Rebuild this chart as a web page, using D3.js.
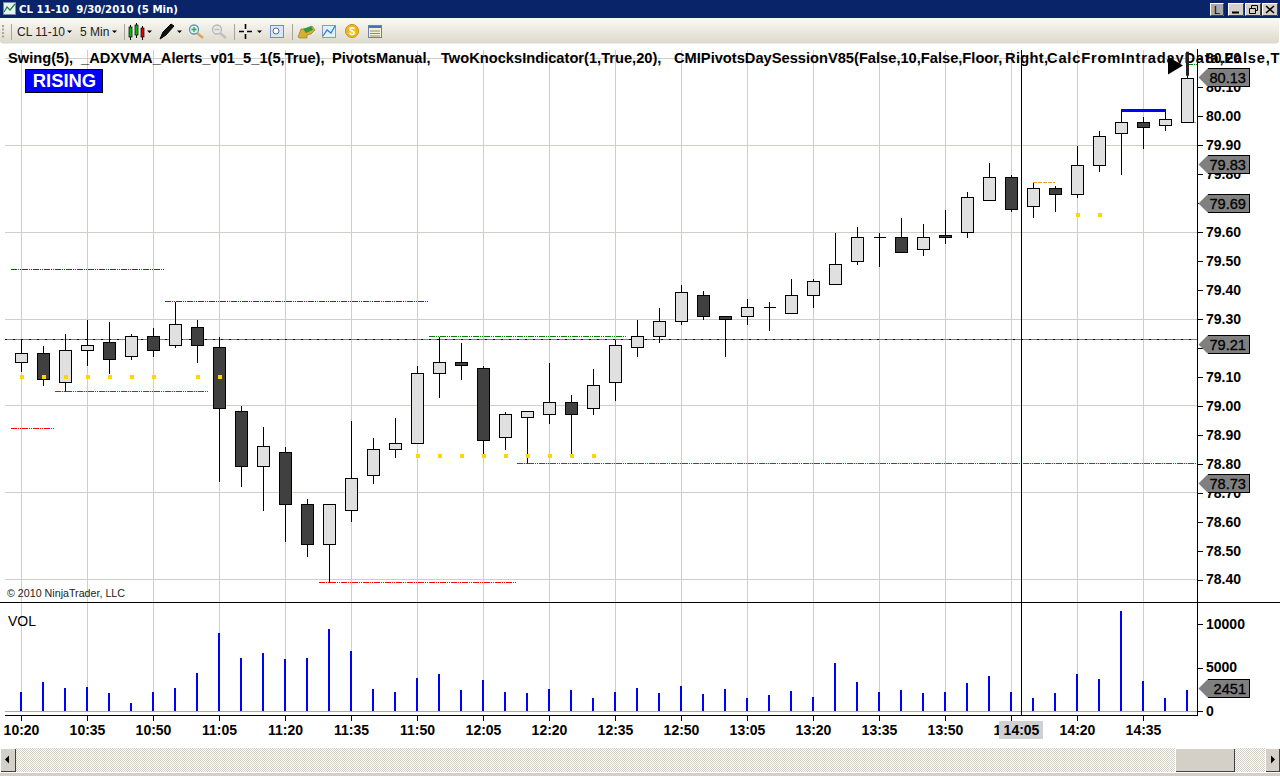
<!DOCTYPE html>
<html><head><meta charset="utf-8">
<script src="https://cdn.jsdelivr.net/npm/d3@7"></script>
<style>
html,body{margin:0;padding:0;background:#fff;overflow:hidden}
svg{display:block;font-family:"Liberation Sans",Arial,sans-serif}
</style></head><body><div id="c"></div>
<script>
const highs=[79.23,79.21,79.25,79.30,79.29,79.25,79.27,79.36,79.30,79.24,79.00,78.93,78.86,78.68,78.66,78.95,78.89,78.96,79.14,79.24,79.22,79.14,78.98,78.98,79.15,79.04,79.13,79.23,79.30,79.34,79.42,79.40,79.31,79.37,79.36,79.44,79.44,79.60,79.62,79.60,79.65,79.63,79.68,79.74,79.84,79.80,79.77,79.76,79.90,79.95,80.02,80.00,80.02,80.22];
const lows=[79.12,79.07,79.05,79.14,79.11,79.16,79.17,79.20,79.15,78.74,78.72,78.64,78.53,78.48,78.39,78.60,78.73,78.82,78.87,79.03,79.09,78.83,78.85,78.80,78.94,78.83,78.97,79.02,79.17,79.22,79.28,79.30,79.17,79.28,79.26,79.32,79.34,79.42,79.49,79.48,79.53,79.52,79.56,79.58,79.71,79.67,79.65,79.67,79.72,79.81,79.80,79.89,79.95,79.98];
const opens=[79.15,79.18,79.08,79.19,79.22,79.17,79.24,79.21,79.27,79.20,78.98,78.79,78.84,78.66,78.52,78.64,78.76,78.85,78.87,79.11,79.15,79.13,78.89,78.96,78.97,79.01,78.99,79.08,79.20,79.24,79.29,79.38,79.31,79.31,79.34,79.32,79.38,79.42,79.50,79.58,79.58,79.54,79.59,79.60,79.71,79.79,79.69,79.75,79.73,79.83,79.94,79.98,79.97,79.98];
const closes=[79.18,79.09,79.19,79.21,79.16,79.24,79.19,79.28,79.21,78.99,78.79,78.86,78.66,78.52,78.66,78.75,78.85,78.87,79.11,79.15,79.14,78.88,78.97,78.98,79.01,78.97,79.07,79.21,79.24,79.29,79.39,79.31,79.30,79.34,79.34,79.38,79.43,79.49,79.58,79.58,79.53,79.58,79.58,79.72,79.79,79.68,79.75,79.73,79.83,79.93,79.98,79.96,79.99,80.13];
const volumes=[2180,3330,2640,2760,2070,920,2180,2640,4370,8960,6090,6660,5970,6090,9420,6890,2530,2180,3790,4250,2410,3560,2180,2070,2530,2410,1490,2180,2640,2070,2870,1950,2530,1490,1840,2300,1610,5520,3330,2180,2410,2070,2180,3220,4020,2180,1490,2070,4250,3680,11490,3450,1490,2451];
const timeLabels=["10:20","10:35","10:50","11:05","11:20","11:35","11:50","12:05","12:20","12:35","12:50","13:05","13:20","13:35","13:50","14:05","14:20","14:35"];
const priceTicks=[78.4,78.5,78.6,78.7,78.8,78.9,79.0,79.1,79.2,79.3,79.4,79.5,79.6,79.7,79.8,79.9,80.0,80.1,80.2];
const priceGrid=[78.4,78.7,79.0,79.3,79.6,79.9,80.2];
const volumeTicks=[0,5000,10000];
const swingHighs=[{a:-0.45,b:6.5,v:79.47,c:"#006400"},{a:6.55,b:18.5,v:79.36,c:"#006400"},{a:18.55,b:27.5,v:79.24,c:"#008000"},{a:53,b:53.45,v:80.18,c:"#008000"}];
const swingLows=[{a:-0.45,b:1.5,v:78.92,c:"#ff0000"},{a:1.55,b:8.5,v:79.05,c:"#ff0000"},{a:13.55,b:22.5,v:78.39,c:"#ff0000"},{a:22.55,b:53.45,v:78.80,c:"#ff0000"}];
const orangeLines=[{a:46,b:47,v:79.77},{a:53,b:53.45,v:79.98}];
const blueLine={a:50,b:52,v:80.02};
const dotBars=[0,1,2,3,4,5,6,8,9,18,19,20,21,22,23,24,25,26,48,49];
const dotValues=[79.10,79.10,79.10,79.10,79.10,79.10,79.10,79.10,79.10,78.83,78.83,78.83,78.83,78.83,78.83,78.83,78.83,78.83,79.66,79.66];
const pivotValue=79.23;
const priceTags=[{v:80.13,t:"80.13"},{v:79.83,t:"79.83"},{v:79.695,t:"79.69"},{v:79.21,t:"79.21"},{v:78.73,t:"78.73"}];
const volumeTag=2451;
const cursorBar=45.47, cursorTime="14:05";
const titleParts=[[8,"Swing(5),",0],[81,"_ADXVMA_Alerts_v01_5_1(5,True),",0],[332,"PivotsManual,",0],[441,"TwoKnocksIndicator(1,True,20),",0],[674,"CMIPivotsDaySessionV85(False,10,False,Floor,",0],[1005,"Right,",0.3],[1047,"CalcFromIntradayData,False,T",0.8]];

const W=1280,H=776;
const svg=d3.select("#c").append("svg").attr("width",W).attr("height",H);
const x=d3.scaleLinear().domain([0,53]).range([21,1187]);
const y=d3.scaleLinear().domain([78.4,80.0]).range([579.5,116.4]);
const yv=d3.scaleLinear().domain([0,10000]).range([711,624]);
const snap=v=>Math.floor(v)+0.5;
const BLK="#000",GRID="#d0cec6";

const defs=svg.append("defs");
const lg=defs.append("linearGradient").attr("id","tb").attr("x1",0).attr("x2",0).attr("y1",0).attr("y2",1);
lg.append("stop").attr("offset",0).attr("stop-color","#fbfaf6");
lg.append("stop").attr("offset",1).attr("stop-color","#dcd8cc");
const pat=defs.append("pattern").attr("id","hatch").attr("width",2).attr("height",2).attr("patternUnits","userSpaceOnUse");
pat.append("rect").attr("width",2).attr("height",2).attr("fill","#fff");
pat.append("rect").attr("width",1).attr("height",1).attr("fill","#d4d0c8");
pat.append("rect").attr("x",1).attr("y",1).attr("width",1).attr("height",1).attr("fill","#d4d0c8");

/* window chrome */
const chrome=svg.append("g");
chrome.append("rect").attr("width",W).attr("height",18).attr("fill","#0a246a");
chrome.append("text").attr("x",19).attr("y",13).attr("fill","#fff").attr("font-size",11).attr("font-weight",700).attr("font-family","'DejaVu Sans'").attr("textLength",159).attr("lengthAdjust","spacingAndGlyphs").attr("xml:space","preserve").text("CL 11-10  9/30/2010 (5 Min)");
chrome.append("rect").attr("x",3.5).attr("y",2.5).attr("width",12).attr("height",12).attr("fill","#e8f0f8").attr("stroke","#7a8aa8");
chrome.append("path").attr("d","M4 12L7 7L10 10L15 4").attr("fill","none").attr("stroke","#1a8a30").attr("stroke-width",1.2);
const winBtn=[[1210,"L"],[1228,"_"],[1245,"▫"],[1262,"×"]];
winBtn.forEach(([bx,s],i)=>{
  chrome.append("rect").attr("x",bx+.5).attr("y",3.5).attr("width",i?15:13).attr("height",12).attr("fill",i?"#d4d0c8":"#a8a8a8").attr("stroke","#fff");
  chrome.append("path").attr("d",`M${bx+(i?15.5:13.5)} 3.5V15.5H${bx+.5}`).attr("fill","none").attr("stroke","#404040");
});
chrome.append("text").attr("x",1217).attr("y",14).attr("text-anchor","middle").attr("font-size",11).text("L");
chrome.append("path").attr("d","M1232 12.5H1239").attr("stroke","#000").attr("stroke-width",2);
chrome.append("path").attr("d","M1249.5 8.5H1255.5V13.5H1249.5ZM1251.5 8V5.5H1257.5V10.5H1255.5").attr("fill","none").attr("stroke","#000");
chrome.append("path").attr("d","M1266 6L1274 13M1274 6L1266 13").attr("stroke","#000").attr("stroke-width",1.6);

chrome.append("rect").attr("x",0).attr("y",18).attr("width",W).attr("height",26).attr("fill","#fff");
chrome.append("rect").attr("x",0).attr("y",18).attr("width",1279).attr("height",25.5).attr("rx",3).attr("fill","url(#tb)");
const tbText=(tx,s)=>chrome.append("text").attr("x",tx).attr("y",36).attr("font-size",12).attr("fill","#222").attr("font-family","'Liberation Sans'").text(s);
tbText(17,"CL 11-10"); tbText(80,"5 Min");
const tri=(tx)=>chrome.append("path").attr("d",`M${tx} 30.5h5l-2.5 2.5z`).attr("fill","#000");
[67,112,147,177,257].forEach(tri);
[[11,"#a8a49c"],[124,"#a8a49c"],[234,"#a8a49c"],[292,"#a8a49c"]].forEach(([sx,c])=>chrome.append("path").attr("d",`M${sx+.5} 24V40`).attr("stroke",c));
for(let i=0;i<4;i++)chrome.append("rect").attr("x",2).attr("y",25+i*3.5).attr("width",2).attr("height",2).attr("fill","#a8a49c");
[[130.5,"#00c000",27,10],[136.5,"#00c000",25,10],[142.5,"#e00000",28,9]].forEach(([cx,c,t,h])=>{
  chrome.append("path").attr("d",`M${cx} ${t-2}V${t+h+3}`).attr("stroke","#000");
  chrome.append("rect").attr("x",cx-1.5).attr("y",t).attr("width",3).attr("height",h).attr("fill",c).attr("stroke","#000").attr("stroke-width",.7);
});
chrome.append("path").attr("d","M160 39L163 32L171 24L174 26L166 35Z").attr("fill","#111").attr("stroke","#000");
[[194,"#3a9a6a",1],[217,"#b8b8b8",0]].forEach(([mx,c,on])=>{
  chrome.append("circle").attr("cx",mx).attr("cy",29.5).attr("r",4.5).attr("fill",on?"#dff3e4":"#e8e8e8").attr("stroke",on?"#5a9ab0":"#b8b8b8").attr("stroke-width",1.3);
  chrome.append("path").attr("d",`M${mx+3} 33L${mx+9} 38`).attr("stroke",on?"#e0a060":"#c0c0c0").attr("stroke-width",2.5);
  chrome.append("path").attr("d",on?`M${mx-2.5} 29.5h5M${mx} 27v5`:`M${mx-2.5} 29.5h5`).attr("stroke",c).attr("stroke-width",1.3);
});
chrome.append("path").attr("d","M239 31.5h5M247 31.5h5M245.5 24v5M245.5 34v5").attr("stroke","#000").attr("stroke-width",1.6);
chrome.append("rect").attr("x",270.5).attr("y",25.5).attr("width",13).attr("height",12).attr("fill","#dbe6f4").attr("stroke","#6f8fc0");
chrome.append("circle").attr("cx",276).attr("cy",31).attr("r",3).attr("fill","#fff").attr("stroke","#667");
chrome.append("path").attr("d","M298 37l3-8h6l5-3 3 4-4 4-4 1v3h-7z").attr("fill","#d8b030").attr("stroke","#807020").attr("stroke-width",.6);
chrome.append("path").attr("d","M303 29l8-3 2 4-7 3z").attr("fill","#2e9a40");
chrome.append("rect").attr("x",322.5).attr("y",25.5).attr("width",13).attr("height",12).attr("fill","#e8eef6").attr("stroke","#8a9ab8");
chrome.append("path").attr("d","M323 36L327 30L331 33L335 26").attr("fill","none").attr("stroke","#1a8ad0").attr("stroke-width",1.3);
chrome.append("circle").attr("cx",352).attr("cy",31).attr("r",6.5).attr("fill","#f0b820").attr("stroke","#c89010");
chrome.append("text").attr("x",352).attr("y",35).attr("text-anchor","middle").attr("font-size",11).attr("font-weight",700).attr("fill","#fff").text("$");
chrome.append("rect").attr("x",368.5).attr("y",25.5).attr("width",13).attr("height",12).attr("fill","#f6f0d8").attr("stroke","#6a80b0");
chrome.append("rect").attr("x",369).attr("y",26).attr("width",12).attr("height",2).attr("fill","#4a70c0");
chrome.append("path").attr("d","M370 31h10M370 33.5h10M370 36h10").attr("stroke","#9a8a60");

/* grid */
const gx=svg.append("g").attr("shape-rendering","crispEdges");
const gridBars=timeLabels.map((_,i)=>i*3);
gx.selectAll(".v").data(gridBars).join("line").attr("x1",d=>x(d)+.5).attr("x2",d=>x(d)+.5).attr("y1",50).attr("y2",711).attr("stroke",GRID);
gx.selectAll(".h").data(priceGrid).join("line").attr("x1",5).attr("x2",1197).attr("y1",d=>snap(y(d))).attr("y2",d=>snap(y(d))).attr("stroke",GRID);

/* title */
const tg=svg.append("g");
tg.selectAll("text").data(titleParts).join("text").attr("x",d=>d[0]).attr("y",63).attr("font-size",14.67).attr("font-weight",700).attr("fill","#000").attr("letter-spacing",d=>d[2]).text(d=>d[1]);

/* pivot */
const pv=svg.append("g").attr("shape-rendering","crispEdges");
pv.append("line").attr("x1",5).attr("x2",1197).attr("y1",snap(y(pivotValue))).attr("y2",snap(y(pivotValue))).attr("stroke","#808080");
pv.append("line").attr("x1",5).attr("x2",1197).attr("y1",snap(y(pivotValue))).attr("y2",snap(y(pivotValue))).attr("stroke","#000").attr("stroke-dasharray","2,6");

/* swings */
const sw=svg.append("g").attr("shape-rendering","crispEdges");
sw.selectAll("line").data(swingHighs.concat(swingLows)).join("line")
 .attr("x1",d=>x(d.a)).attr("x2",d=>x(d.b)).attr("y1",d=>snap(y(d.v))).attr("y2",d=>snap(y(d.v)))
 .attr("stroke",d=>d.c).attr("stroke-dasharray","6,1,1,1,1,1");
svg.append("g").attr("shape-rendering","crispEdges").selectAll("line").data(orangeLines).join("line")
 .attr("x1",d=>x(d.a)).attr("x2",d=>x(d.b)).attr("y1",d=>snap(y(d.v))).attr("y2",d=>snap(y(d.v)))
 .attr("stroke","#f0a020").attr("stroke-dasharray","4,1");

/* candles */
const cg=svg.append("g").attr("shape-rendering","crispEdges");
const idx=d3.range(highs.length);
cg.selectAll(".w").data(idx).join("line").attr("x1",i=>x(i)+.5).attr("x2",i=>x(i)+.5)
 .attr("y1",i=>snap(y(highs[i]))).attr("y2",i=>snap(y(lows[i]))).attr("stroke",BLK);
cg.selectAll(".b").data(idx).join("path")
 .attr("d",i=>{
   const t=snap(y(Math.max(opens[i],closes[i]))),b=snap(y(Math.min(opens[i],closes[i])));
   return `M${x(i)-5.5} ${t}h12V${b}h-12Z`;})
 .attr("fill",i=>closes[i]>=opens[i]?"#e0e0e0":"#404040").attr("stroke",BLK);

/* swing dots */
svg.append("g").attr("shape-rendering","crispEdges").selectAll("rect").data(dotBars).join("rect")
 .attr("x",d=>x(d)-1).attr("y",(d,i)=>Math.floor(y(dotValues[i]))-1).attr("width",4).attr("height",4).attr("fill","#ffd700");

/* blue line & markers */
svg.append("rect").attr("x",x(blueLine.a)).attr("y",Math.floor(y(blueLine.v))-1).attr("width",x(blueLine.b)-x(blueLine.a)+1).attr("height",3).attr("fill","#0000ff");
svg.append("path").attr("d",`M${x(53)-19} ${y(80.2)-2}L${x(53)-4} ${y(80.2)+7}L${x(53)-19} ${y(80.2)+16}Z`).attr("fill","#000");
svg.append("rect").attr("x",x(53)-1).attr("y",y(80.22)-1).attr("width",3).attr("height",24).attr("fill","#222");

/* volume */
svg.append("g").attr("shape-rendering","crispEdges").selectAll("rect").data(volumes).join("rect")
 .attr("x",(d,i)=>x(i)-1).attr("width",2).attr("y",d=>yv(d)).attr("height",d=>yv(0)-yv(d)).attr("fill","#0000ff");
svg.append("line").attr("x1",5).attr("x2",1197).attr("y1",711.5).attr("y2",711.5).attr("stroke","#a9a9a9").attr("shape-rendering","crispEdges");

/* frame */
const fr=svg.append("g").attr("shape-rendering","crispEdges");
fr.append("line").attr("x1",0).attr("x2",W).attr("y1",602.5).attr("y2",602.5).attr("stroke",BLK);
fr.append("line").attr("x1",5).attr("x2",1197).attr("y1",715.5).attr("y2",715.5).attr("stroke",BLK);
fr.append("line").attr("x1",1197.5).attr("x2",1197.5).attr("y1",49).attr("y2",716).attr("stroke",BLK);

/* axes */
const styleAxis=g=>{g.select(".domain").remove();g.selectAll("line").attr("stroke",BLK).attr("shape-rendering","crispEdges");
 g.selectAll("text").attr("font-size",14).attr("font-weight",700).attr("fill",BLK).attr("font-family","'Liberation Sans'");};
svg.append("g").attr("transform","translate(1197,0)").call(d3.axisRight(y).tickValues(priceTicks).tickFormat(d3.format(".2f")).tickSize(6).tickPadding(3)).call(styleAxis);
svg.append("g").attr("transform","translate(1197,0)").call(d3.axisRight(yv).tickValues(volumeTicks).tickFormat(d3.format("d")).tickSize(6).tickPadding(3)).call(styleAxis);
svg.append("g").attr("transform","translate(0,715)").call(d3.axisBottom(x).tickValues(gridBars).tickFormat((d,i)=>timeLabels[i]).tickSize(6).tickPadding(4)).call(styleAxis);

/* cursor */
const cx=snap(x(cursorBar));
svg.append("line").attr("x1",cx).attr("x2",cx).attr("y1",50).attr("y2",715).attr("stroke",BLK).attr("shape-rendering","crispEdges");
svg.append("rect").attr("x",cx-22.5).attr("y",721).attr("width",44).attr("height",18).attr("fill","#d0d0d0");
svg.append("text").attr("x",cx).attr("y",735).attr("text-anchor","middle").attr("font-size",14).attr("font-weight",700).text(cursorTime);

/* tags */
const tag=(yy,t)=>{
  const g=svg.append("g");const c=Math.floor(yy-.8)+.5;
  g.append("path").attr("d",`M1198.5 ${c}L1207.5 ${c-9}H1249.5V${c+9}H1207.5Z`).attr("fill","#808080");
  g.append("path").attr("d",`M1207.5 ${c-9}H1249.5V${c+9}H1207.5`).attr("fill","none").attr("stroke","#000").attr("shape-rendering","crispEdges");
  g.append("text").attr("x",1246).attr("y",c+5.5).attr("text-anchor","end").attr("font-size",14.6).attr("fill","#000").attr("stroke","#000").attr("stroke-width",.3).text(t);
};
priceTags.forEach(d=>tag(y(d.v),d.t));
tag(yv(volumeTag),String(volumeTag));

/* labels */
svg.append("rect").attr("x",25.5).attr("y",69.5).attr("width",77).attr("height",23).attr("fill","#0000ff").attr("stroke","#000").attr("shape-rendering","crispEdges");
svg.append("text").attr("x",64.5).attr("y",87).attr("text-anchor","middle").attr("font-size",18.4).attr("font-weight",700).attr("fill","#fff").text("RISING");
svg.append("text").attr("x",7).attr("y",597).attr("font-size",11).attr("fill","#222").attr("textLength",118).attr("lengthAdjust","spacingAndGlyphs").text("© 2010 NinjaTrader, LLC");
svg.append("text").attr("x",8).attr("y",626).attr("font-size",14).attr("fill","#000").text("VOL");

/* scrollbar */
const sb=svg.append("g");
sb.append("rect").attr("x",0).attr("y",748).attr("width",W).attr("height",24).attr("fill","url(#hatch)");
sb.append("rect").attr("x",0).attr("y",772).attr("width",W).attr("height",4).attr("fill","#d4d0c8");
sb.append("line").attr("x1",0).attr("x2",W).attr("y1",772.5).attr("y2",772.5).attr("stroke","#fff");
const sbBtn=(bx,bw)=>{sb.append("rect").attr("x",bx+.5).attr("y",748.5).attr("width",bw-1).attr("height",23).attr("fill","#d4d0c8").attr("stroke","#fff").attr("shape-rendering","crispEdges");
 sb.append("path").attr("d",`M${bx+bw-.5} 748.5V771.5H${bx+.5}`).attr("fill","none").attr("stroke","#404040").attr("shape-rendering","crispEdges");};
sbBtn(0,16);sbBtn(1175,60);sbBtn(1265,15);
sb.append("path").attr("d","M5 759.5L9 755.5V763.5Z").attr("fill","#000");
sb.append("path").attr("d","M1275 759.5L1271 755.5V763.5Z").attr("fill","#000");
</script></body></html>
